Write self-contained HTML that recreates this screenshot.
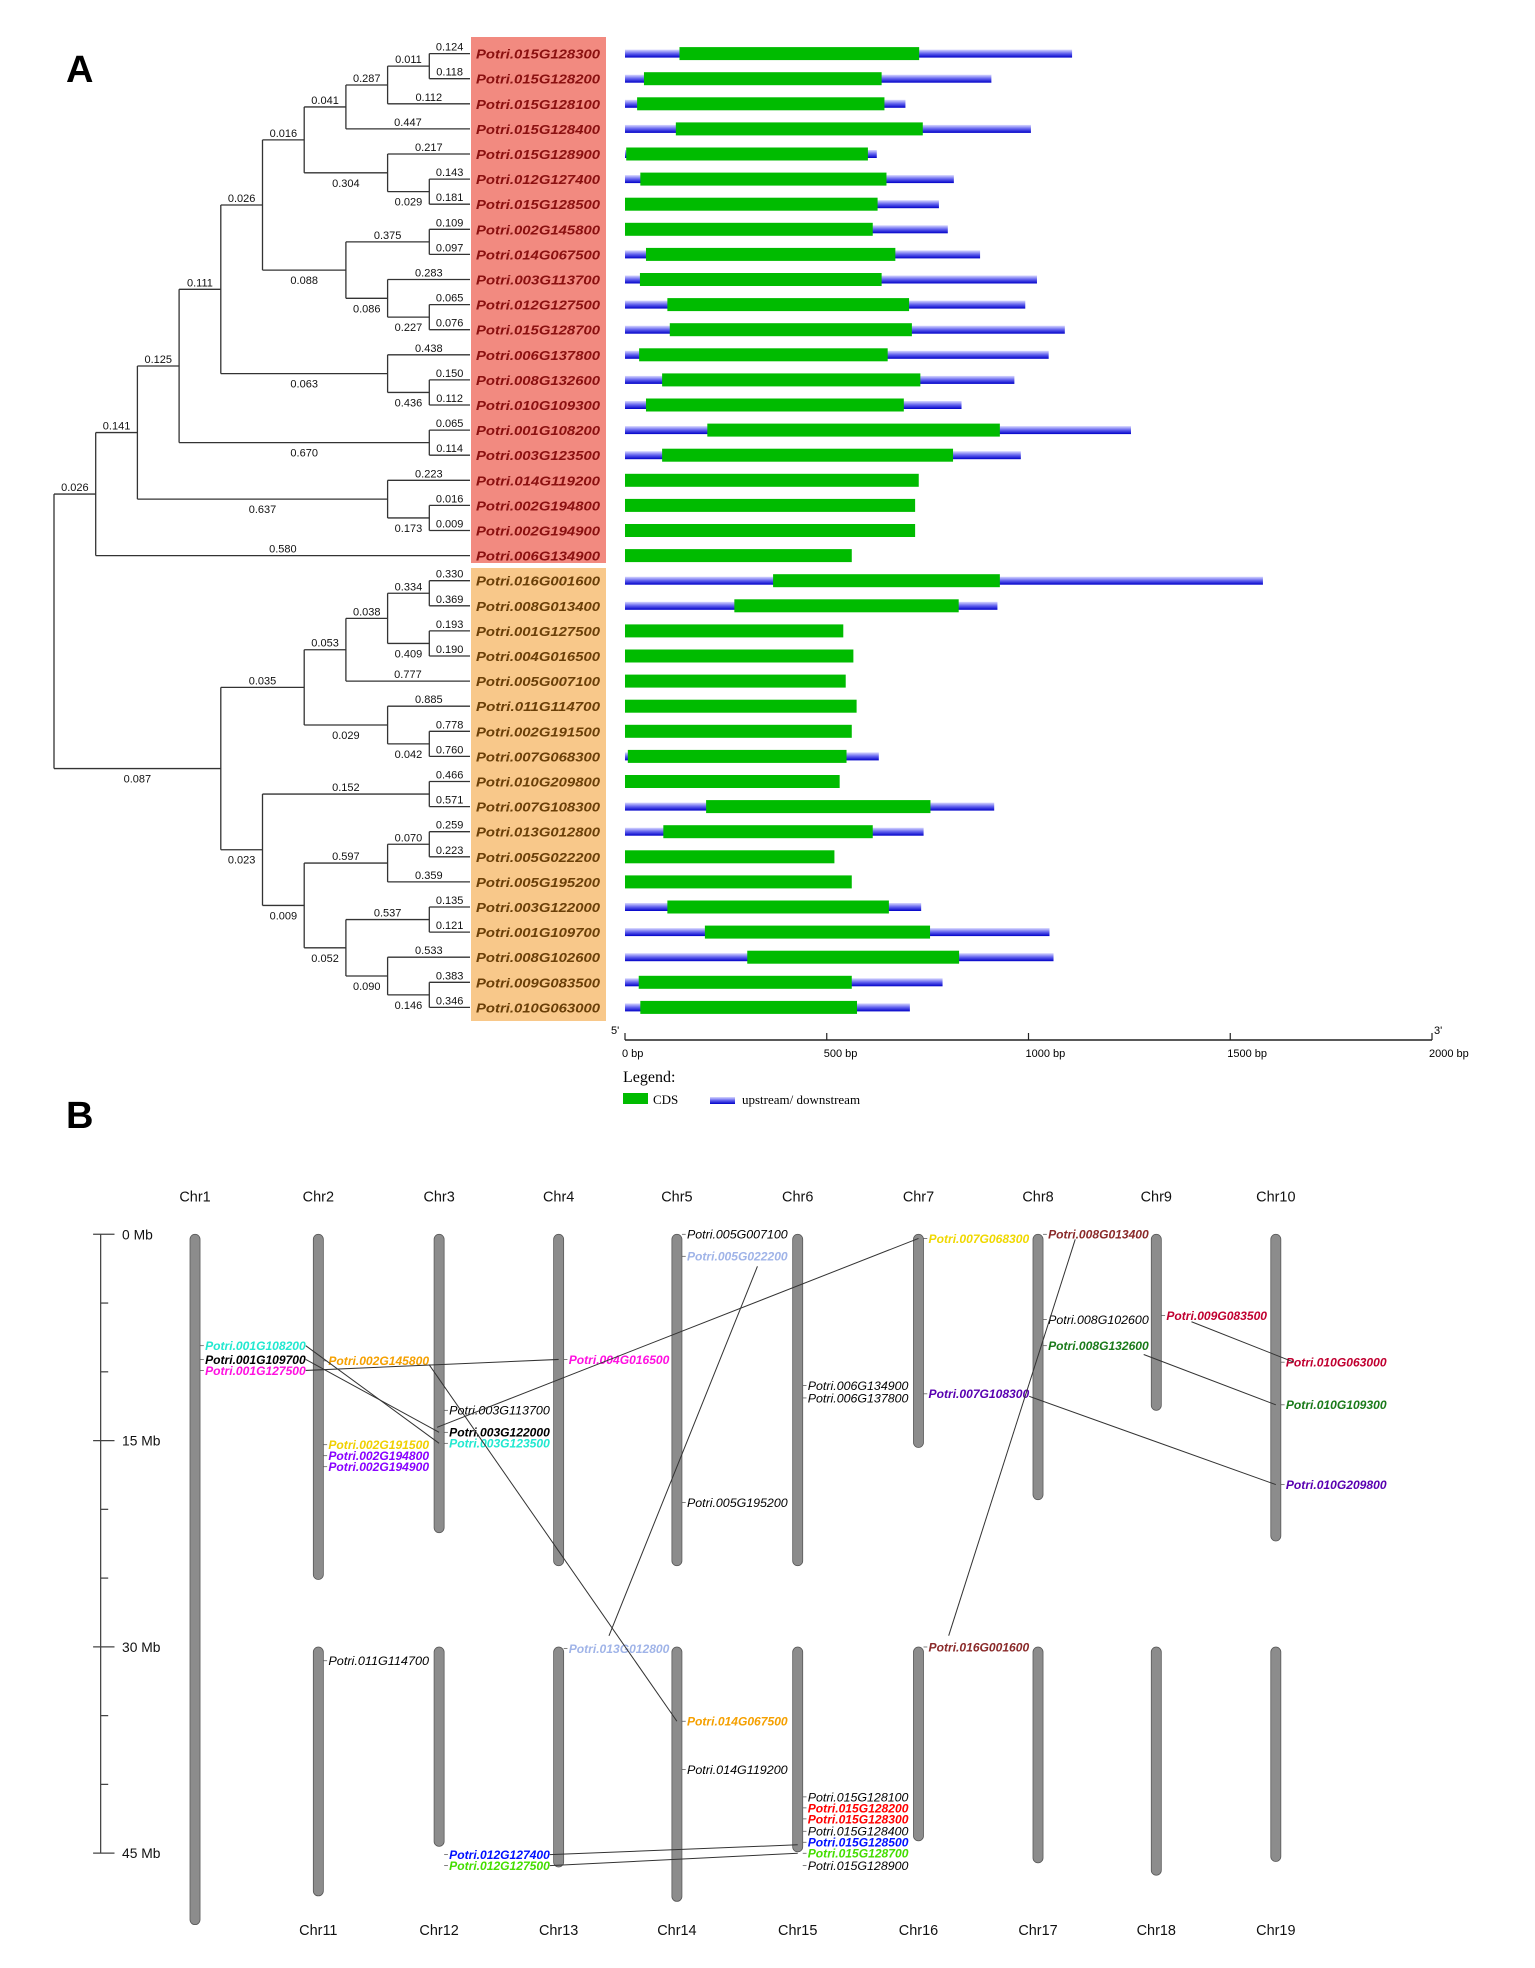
<!DOCTYPE html>
<html><head><meta charset="utf-8"><style>
html,body{margin:0;padding:0;background:#fff}
svg{display:block}
text{font-family:"Liberation Sans",sans-serif}
</style></head><body>
<svg id="fig" width="1535" height="1968" viewBox="0 0 1535 1968" xmlns="http://www.w3.org/2000/svg">
<defs>
<linearGradient id="utr" x1="0" y1="0" x2="0" y2="1">
<stop offset="0" stop-color="#d8d8ff"/><stop offset="0.5" stop-color="#6060ee"/><stop offset="1" stop-color="#0000c8"/>
</linearGradient>
</defs>
<text x="66" y="82" font-size="38" font-weight="bold">A</text>
<text x="66" y="1128" font-size="38" font-weight="bold">B</text>
<rect x="471" y="37" width="135" height="526" fill="#f28a80"/>
<rect x="471" y="568" width="135" height="453" fill="#f8c88a"/>
<g id="tree"></g>
<g id="genes"></g>
<g id="axisA"></g>
<g>
<text x="623" y="1082" font-family="Liberation Serif" font-size="16" style="font-family:'Liberation Serif',serif">Legend:</text>
<rect x="623" y="1093" width="25" height="11" fill="#00bb00"/>
<text x="653" y="1104" font-size="13" style="font-family:'Liberation Serif',serif">CDS</text>
<rect x="710" y="1097" width="25" height="7" fill="url(#utr)"/>
<text x="742" y="1104" font-size="13" style="font-family:'Liberation Serif',serif">upstream/ downstream</text>
</g>
<g id="panelB" transform="scale(1.2582)"></g>
</svg>
<script>
// ---------- Panel A data ----------
const geneNames = ["Potri.015G128300","Potri.015G128200","Potri.015G128100","Potri.015G128400","Potri.015G128900","Potri.012G127400","Potri.015G128500","Potri.002G145800","Potri.014G067500","Potri.003G113700","Potri.012G127500","Potri.015G128700","Potri.006G137800","Potri.008G132600","Potri.010G109300","Potri.001G108200","Potri.003G123500","Potri.014G119200","Potri.002G194800","Potri.002G194900","Potri.006G134900","Potri.016G001600","Potri.008G013400","Potri.001G127500","Potri.004G016500","Potri.005G007100","Potri.011G114700","Potri.002G191500","Potri.007G068300","Potri.010G209800","Potri.007G108300","Potri.013G012800","Potri.005G022200","Potri.005G195200","Potri.003G122000","Potri.001G109700","Potri.008G102600","Potri.009G083500","Potri.010G063000"];
const cdsStart = [135,47,30,126,3,38,0,0,52,37,105,111,35,92,52,204,92,0,0,0,0,367,271,0,0,0,0,0,7,0,201,95,0,0,105,198,303,34,38];
const cdsEnd = [729,636,643,738,602,648,626,614,670,636,704,711,651,732,691,929,813,728,719,719,562,929,827,541,566,547,574,562,549,532,757,614,519,562,654,756,828,562,575];
const totalLen = [1108,908,695,1006,624,815,778,800,880,1021,992,1090,1050,965,834,1254,981,728,719,719,562,1581,923,541,566,547,574,562,629,532,915,740,519,562,734,1052,1062,787,706];
const bpTicks = [0,500,1000,1500,2000];
// tree: [level, [branchLabel, child], ...]; child = row index or subtree
const tree = [0,
 ["0.026",[1,
   ["0.141",[2,
     ["0.125",[3,
       ["0.111",[4,
         ["0.026",[5,
           ["0.016",[6,
             ["0.041",[7,
               ["0.287",[8,
                 ["0.011",[9,["0.124",0],["0.118",1]]],
                 ["0.112",2]]],
               ["0.447",3]]],
             ["0.304",[8,["0.217",4],["0.029",[9,["0.143",5],["0.181",6]]]]]]],
           ["0.088",[7,
             ["0.375",[9,["0.109",7],["0.097",8]]],
             ["0.086",[8,["0.283",9],["0.227",[9,["0.065",10],["0.076",11]]]]]]]]],
         ["0.063",[8,["0.438",12],["0.436",[9,["0.150",13],["0.112",14]]]]]]],
       ["0.670",[9,["0.065",15],["0.114",16]]]]],
     ["0.637",[8,["0.223",17],["0.173",[9,["0.016",18],["0.009",19]]]]]]],
   ["0.580",20]]],
 ["0.087",[4,
   ["0.035",[6,
     ["0.053",[7,
       ["0.038",[8,["0.334",[9,["0.330",21],["0.369",22]]],["0.409",[9,["0.193",23],["0.190",24]]]]],
       ["0.777",25]]],
     ["0.029",[8,["0.885",26],["0.042",[9,["0.778",27],["0.760",28]]]]]]],
   ["0.023",[5,
     ["0.152",[9,["0.466",29],["0.571",30]]],
     ["0.009",[6,
       ["0.597",[8,["0.070",[9,["0.259",31],["0.223",32]]],["0.359",33]]],
       ["0.052",[7,
         ["0.537",[9,["0.135",34],["0.121",35]]],
         ["0.090",[8,["0.533",36],["0.146",[9,["0.383",37],["0.346",38]]]]]]]]]]]]]
];
const NS="http://www.w3.org/2000/svg";
function mk(tag,attrs,parent,txt){const e=document.createElementNS(NS,tag);for(const k in attrs)e.setAttribute(k,attrs[k]);if(txt!==undefined)e.textContent=txt;parent.appendChild(e);return e;}
const rowY = i => 53.6 + i*25.1;
const levelX = lv => 54 + lv*41.7;
const TIPX = 470;
const gTree=document.getElementById('tree');
function drawNode(node){
  const lv=node[0], x=levelX(lv); const ys=[];
  for(let k=1;k<node.length;k++){
    const [lab,child]=node[k];
    let cy,cx,isTip=typeof child==='number';
    if(isTip){cy=rowY(child);cx=TIPX;}else{cy=drawNode(child);cx=levelX(child[0]);}
    const ln=mk('line',{x1:x,y1:cy,x2:cx,y2:cy,stroke:'#333','stroke-width':1.3},gTree);
    
    
    const below=!isTip && k===node.length-1;
    const t=mk('text',{x:(x+cx)/2,y:below?cy+14:cy-3,'font-size':11,'text-anchor':'middle',fill:'#111'},gTree,lab);
    
    
    ys.push(cy);
  }
  const v=mk('line',{x1:x,y1:Math.min(...ys),x2:x,y2:Math.max(...ys),stroke:'#333','stroke-width':1.3},gTree);
  
  
  return (Math.min(...ys)+Math.max(...ys))/2;
}
drawNode(tree);
// tip labels and gene structures
const gG=document.getElementById('genes');
const bx = bp => 625 + bp*0.4035;
geneNames.forEach((n,i)=>{
  const y=rowY(i);
  const t=mk('text',{x:476,y:y+5,'font-size':13,'font-weight':'bold','font-style':'italic',fill:i<21?'#8a1010':'#6a3f08',textLength:124,lengthAdjust:'spacingAndGlyphs'},gTree,n);
  
  
  if(totalLen[i]>cdsEnd[i]||cdsStart[i]>0){
    const u=mk('rect',{x:bx(0),y:y-4,width:bx(totalLen[i])-bx(0),height:8,fill:'url(#utr)'},gG);
    
    
  }
  const c=mk('rect',{x:bx(cdsStart[i]),y:y-6.5,width:bx(cdsEnd[i])-bx(cdsStart[i]),height:13,fill:'#00bb00'},gG);
  
  
});
const gA=document.getElementById('axisA');
mk('line',{x1:bx(0),y1:1040,x2:bx(2000),y2:1040,stroke:'#222','stroke-width':1.5},gA);
bpTicks.forEach(b=>{
  mk('line',{x1:bx(b),y1:1040,x2:bx(b),y2:1033,stroke:'#222','stroke-width':1.2},gA);
  const t=mk('text',{x:bx(b)-3,y:1057,'font-size':11},gA,b+' bp');
  
  
});
mk('text',{x:bx(0)-14,y:1034,'font-size':11},gA,"5'");
mk('text',{x:bx(2000)+2,y:1034,'font-size':11},gA,"3'");

// ---------- Panel B data ----------
const chrNames=["Chr1","Chr2","Chr3","Chr4","Chr5","Chr6","Chr7","Chr8","Chr9","Chr10","Chr11","Chr12","Chr13","Chr14","Chr15","Chr16","Chr17","Chr18","Chr19"];
const chrLen=[50.2,25.1,21.7,24.1,24.1,24.1,15.5,19.3,12.8,22.3,18.1,14.5,16.0,18.5,14.9,14.1,15.7,16.6,15.6];
const mbTicks=[0,5,10,15,20,25,30,35,40,45];
const mbLabels=[0,15,30,45];
// [gene, chromosome index, position Mb, color, bold]
const genes=[
["Potri.001G108200",0,8.1,"#22e8d0",1],["Potri.001G109700",0,9.1,"#000",1],["Potri.001G127500",0,9.9,"#ff10e0",1],
["Potri.002G145800",1,9.2,"#f5a000",1],["Potri.002G191500",1,15.3,"#f0d000",1],["Potri.002G194800",1,16.1,"#8800ff",1],["Potri.002G194900",1,16.9,"#8800ff",1],
["Potri.003G113700",2,12.8,"#000",0],["Potri.003G122000",2,14.4,"#000",1],["Potri.003G123500",2,15.2,"#22e8d0",1],
["Potri.004G016500",3,9.1,"#ff10e0",1],
["Potri.005G007100",4,0,"#000",0],["Potri.005G022200",4,1.6,"#a0b4e8",1],["Potri.005G195200",4,19.5,"#000",0],
["Potri.006G134900",5,11.0,"#000",0],["Potri.006G137800",5,11.9,"#000",0],
["Potri.007G068300",6,0.3,"#f0d800",1],["Potri.007G108300",6,11.6,"#5800b0",1],
["Potri.008G013400",7,0,"#8a2a2a",1],["Potri.008G102600",7,6.2,"#000",0],["Potri.008G132600",7,8.1,"#1a7a1a",1],
["Potri.009G083500",8,5.9,"#c00030",1],
["Potri.010G063000",9,9.3,"#c00030",1],["Potri.010G109300",9,12.4,"#1a7a1a",1],["Potri.010G209800",9,18.2,"#5800b0",1],
["Potri.011G114700",10,1.0,"#000",0],
["Potri.012G127400",11,15.1,"#0010ff",1],["Potri.012G127500",11,15.9,"#44dd00",1],
["Potri.013G012800",12,0.1,"#a0b4e8",1],
["Potri.014G067500",13,5.4,"#f5a000",1],["Potri.014G119200",13,8.9,"#000",0],
["Potri.015G128100",14,10.9,"#000",0],["Potri.015G128200",14,11.7,"#ff0000",1],["Potri.015G128300",14,12.5,"#ff0000",1],["Potri.015G128400",14,13.4,"#000",0],["Potri.015G128500",14,14.2,"#0010ff",1],["Potri.015G128700",14,15.0,"#44dd00",1],["Potri.015G128900",14,15.9,"#000",0],
["Potri.016G001600",15,0,"#8a2a2a",1]
];
// links: [geneA, geneB, fraction along label A, dyA, fraction along label B, dyB]
const links=[
["Potri.001G108200","Potri.003G123500",1,0,0,0],["Potri.001G109700","Potri.003G122000",1,0,0,0],
["Potri.001G127500","Potri.004G016500",1,0,0,0],["Potri.002G145800","Potri.014G067500",1,3,0,0],
["Potri.003G122000","Potri.007G068300",-0.12,-4,0,0],["Potri.005G022200","Potri.013G012800",0.7,8,0.4,-10],
["Potri.008G013400","Potri.016G001600",0.27,4,0.2,-9],["Potri.007G108300","Potri.010G209800",1,2,0,0],
["Potri.008G132600","Potri.010G109300",0.95,7,0,0],["Potri.009G083500","Potri.010G063000",0.25,5,0.08,0],
["Potri.012G127400","Potri.015G128500",1,0,0,2],["Potri.012G127500","Potri.015G128700",1,0,0,0]
];
const gB=document.getElementById('panelB');
const colX=[155,253,349,444,538,634,730,825,919,1014];
const chrX=i=> i<10?colX[i]:colX[i-9];
const chrTop=i=> i<10?981:1309;
const mbY=(i,mb)=> chrTop(i)+mb*10.93;
const LBLW=80;
// axis
mk('line',{x1:80,y1:mbY(0,0),x2:80,y2:mbY(0,45),stroke:'#444','stroke-width':1},gB);
mbTicks.forEach(m=>{
  const major=mbLabels.includes(m);
  mk('line',{x1:major?74:80,y1:mbY(0,m),x2:major?91:86,y2:mbY(0,m),stroke:'#444','stroke-width':1},gB);
});
mbLabels.forEach(m=>{
  const t=mk('text',{x:97,y:mbY(0,m)+4,'font-size':11,fill:'#111'},gB,m+' Mb');
  
  
});
chrNames.forEach((n,i)=>{
  const x=chrX(i);
  const r=mk('rect',{x:x-4,y:chrTop(i),width:8,height:chrLen[i]*10.93,rx:4,fill:'#8c8c8c',stroke:'#555','stroke-width':0.6},gB);
  
  
  const t=mk('text',{x:x,y:i<10?955:1538,'font-size':11.5,'text-anchor':'middle',fill:'#111'},gB,n);
  
  
});
const gpos={};
genes.forEach(g=>{
  const [n,ci,mb,col,bold]=g;
  const x=chrX(ci), y=mbY(ci,mb);
  gpos[n]={lx:x+8,cx:x,y:y};
  mk('line',{x1:x+4,y1:y,x2:x+7,y2:y,stroke:'#555','stroke-width':0.6},gB);
  const t=mk('text',{x:x+8,y:y+3.5,'font-size':9.5,'font-style':'italic','font-weight':bold?'bold':'normal',fill:col,textLength:LBLW,lengthAdjust:'spacingAndGlyphs'},gB,n);
  
  
});
links.forEach(l=>{
  const a=gpos[l[0]], b=gpos[l[1]];
  const xa=l[2]===0?a.cx:a.lx+LBLW*l[2], xb=l[4]===0?b.cx:b.lx+LBLW*l[4];
  const ln=mk('line',{x1:xa,y1:a.y+l[3],x2:xb,y2:b.y+l[5],stroke:'#333','stroke-width':0.8},gB);
  
  
});
</script>
</body></html>
